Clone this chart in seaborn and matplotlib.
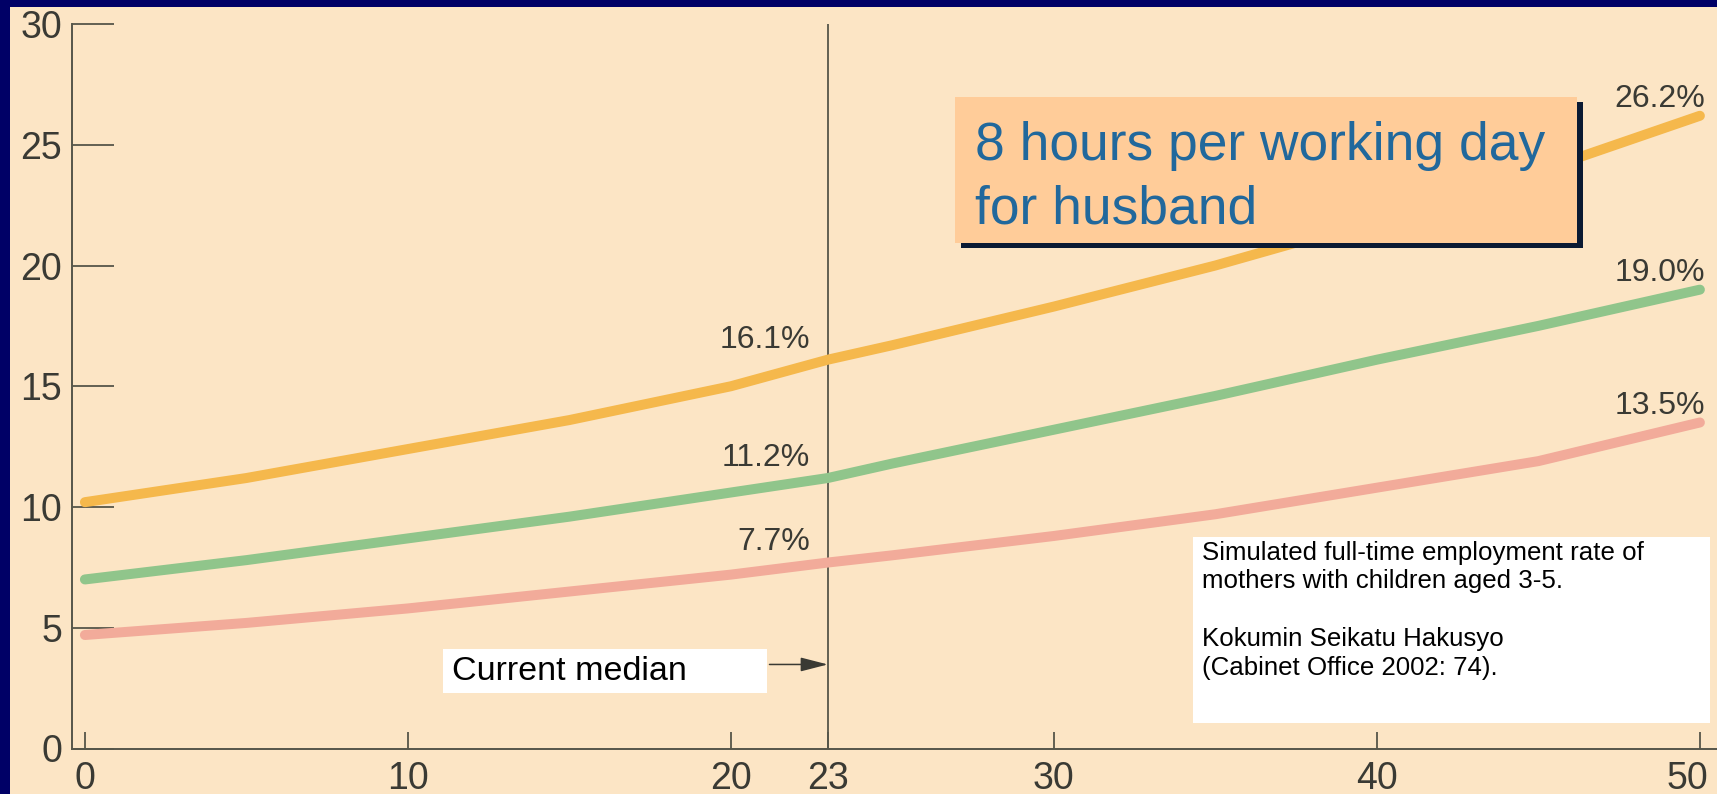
import numpy as np
import pandas as pd
import matplotlib
matplotlib.use("Agg")
import matplotlib.pyplot as plt
from matplotlib.patches import Rectangle
from matplotlib.transforms import ScaledTranslation
import seaborn as sns

# Husband's working hours reduction (x) vs simulated full-time employment rate (%)
hours_x = [0, 5, 10, 15, 20, 23, 25, 30, 35, 40, 45, 50]
rate_orange = [10.2, 11.2, 12.4, 13.6, 15.0, 16.1, 16.7, 18.3, 20.0, 21.9, 23.9, 26.2]
rate_green = [7.0, 7.8, 8.7, 9.6, 10.6, 11.2, 11.8, 13.2, 14.6, 16.1, 17.5, 19.0]
rate_pink = [4.7, 5.2, 5.8, 6.5, 7.2, 7.7, 8.0, 8.8, 9.7, 10.8, 11.9, 13.5]

series_names = ["upper", "middle", "lower"]
series_values = [rate_orange, rate_green, rate_pink]
series_colors = ["#F5B84C", "#90C58B", "#F2AB9A"]

median_x = 23
x_ticks = [0, 10, 20, 23, 30, 40, 50]
y_ticks = [0, 5, 10, 15, 20, 25, 30]

df = pd.DataFrame({
    "x": hours_x * 3,
    "rate": sum(series_values, []),
    "series": sum([[n] * len(hours_x) for n in series_names], []),
})

sns.set_theme(style="white")
plt.rcParams["font.family"] = ["Liberation Sans", "DejaVu Sans"]

W, H = 1717, 794
fig = plt.figure(figsize=(W / 100, H / 100), dpi=100)
fig.patch.set_facecolor("#000066")

BEIGE = "#FCE5C5"
AXCOL = "#56564A"
TXT = "#3A3A34"


def fx(px):
    return px / W


def fy(py):
    return 1 - py / H


# paper-coloured panel inside the navy frame
fig.add_artist(Rectangle((fx(10), 0), 1, fy(7), transform=fig.transFigure,
                         facecolor=BEIGE, edgecolor="none", zorder=-10))

ax = fig.add_axes([fx(72), 1 - 748.5 / H, 1 - fx(72), (748.5 - 24) / H])
ax.set_facecolor("none")
ax.patch.set_alpha(0)

sns.lineplot(data=df, x="x", y="rate", hue="series", hue_order=series_names,
             palette=series_colors, linewidth=7.2, legend=False, ax=ax)
for ln in ax.get_lines():
    ln.set_solid_capstyle("round")

ax.axvline(median_x, color=AXCOL, lw=1.3, zorder=1)

ax.set_xlim(-0.40, 50.53)
ax.set_ylim(0, 30)
ax.set_xticks(x_ticks)
ax.set_yticks(y_ticks)
ax.set_xlabel("")
ax.set_ylabel("")

for s in ["top", "right"]:
    ax.spines[s].set_visible(False)
for s in ["left", "bottom"]:
    ax.spines[s].set_color(AXCOL)
    ax.spines[s].set_linewidth(1.4)

ax.tick_params(axis="y", direction="in", length=30, width=1.3, color=AXCOL,
               pad=7, labelsize=27, labelcolor=TXT, left=True)
ax.tick_params(axis="x", direction="in", length=12, width=1.3, color=AXCOL,
               pad=9, labelsize=27, labelcolor=TXT, bottom=True)

# keep the last x tick label inside the figure edge
fig.canvas.draw()
last_label = ax.get_xticklabels()[-1]
last_label.set_ha("right")
last_label.set_transform(last_label.get_transform()
                         + ScaledTranslation(8 / 100, 0, fig.dpi_scale_trans))

# value labels at the current median
for vals in series_values:
    v = vals[hours_x.index(median_x)]
    ax.annotate(f"{v:.1f}%", xy=(median_x, v), xytext=(-13, 14.5),
                textcoords="offset points", ha="right", va="center",
                fontsize=23, color=TXT)

# value labels at the right end
for vals in series_values:
    v = vals[-1]
    ax.annotate(f"{v:.1f}%", xy=(hours_x[-1], v), xytext=(4, 12),
                textcoords="offset points", ha="right", va="center",
                fontsize=23, color=TXT)

# "Current median" box with arrow pointing to the median line
fig.add_artist(Rectangle((fx(443), fy(693)), fx(767 - 443), (693 - 649) / H,
                         transform=fig.transFigure, facecolor="white",
                         edgecolor="none", zorder=5))
fig.text(fx(452), fy(672), "Current median", ha="left", va="center",
         fontsize=24.5, color="black", zorder=6)
ax.annotate("", xy=(median_x, 3.48), xytext=(-42, 0), textcoords="offset points",
            arrowprops=dict(arrowstyle="-|>,head_length=1.4,head_width=0.36",
                            color="#3A3A34", lw=1.1, shrinkA=0, shrinkB=0))

# highlighted condition box with drop shadow
fig.add_artist(Rectangle((fx(961), fy(248)), fx(1583 - 961), (248 - 102) / H,
                         transform=fig.transFigure, facecolor="#0B1A33",
                         edgecolor="none", zorder=5))
fig.add_artist(Rectangle((fx(955), fy(243)), fx(1577 - 955), (243 - 97) / H,
                         transform=fig.transFigure, facecolor="#FFCC99",
                         edgecolor="none", zorder=6))
fig.text(fx(975), fy(146), "8 hours per working day", ha="left", va="center",
         fontsize=38.4, color="#21689C", zorder=7)
fig.text(fx(975), fy(209), "for husband", ha="left", va="center",
         fontsize=38.4, color="#21689C", zorder=7)

# source note box
fig.add_artist(Rectangle((fx(1193), fy(723)), fx(1710 - 1193), (723 - 537) / H,
                         transform=fig.transFigure, facecolor="white",
                         edgecolor="none", zorder=5))
note_lines = [
    ("Simulated full-time employment rate of", 553),
    ("mothers with children aged 3-5.", 581),
    ("Kokumin Seikatu Hakusyo", 639),
    ("(Cabinet Office 2002: 74).", 668),
]
for line, ypx in note_lines:
    fig.text(fx(1202), fy(ypx), line, ha="left", va="center",
             fontsize=18.6, color="black", zorder=6)

fig.savefig("out.png", dpi=100, facecolor=fig.get_facecolor())
